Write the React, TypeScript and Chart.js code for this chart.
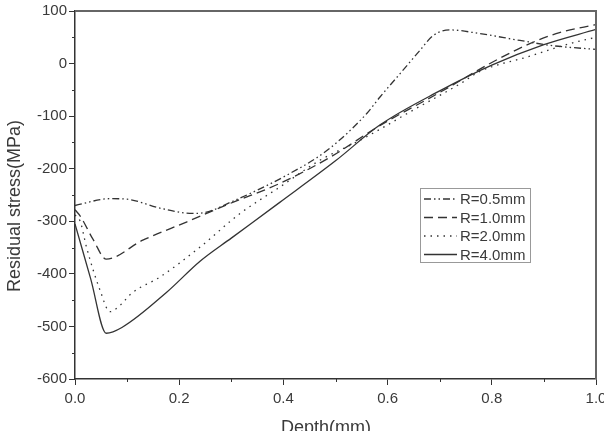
import { useEffect, useRef } from 'react';
import { Chart, registerables } from 'chart.js';

Chart.register(...registerables);

// Residual stress profiles vs depth for four tool radii
const depthR05 = [0, 0.067, 0.1, 0.163, 0.226, 0.246, 0.298, 0.407, 0.484, 0.56, 0.585, 0.624, 0.662, 0.687, 0.72, 0.777, 0.854, 0.917, 1.0];
const stressR05 = [-270, -257, -258, -275, -285, -284, -264, -212, -165, -95, -64, -19, 25, 53, 64, 57, 44, 34, 27];

const depthR10 = [0, 0.01, 0.035, 0.06, 0.13, 0.215, 0.298, 0.393, 0.49, 0.585, 0.7, 0.8, 0.873, 0.93, 1.0];
const stressR10 = [-278, -290, -335, -372, -336, -301, -266, -228, -178, -118, -55, 2, 38, 59, 74];

const depthR20 = [0, 0.01, 0.022, 0.048, 0.067, 0.083, 0.11, 0.163, 0.24, 0.317, 0.393, 0.47, 0.547, 0.65, 0.74, 0.777, 0.873, 0.95, 1.0];
const stressR20 = [-288, -300, -349, -431, -472, -463, -436, -406, -349, -285, -235, -184, -146, -88, -38, -15, 14, 38, 50];

const depthR40 = [0, 0.03, 0.06, 0.09, 0.176, 0.24, 0.3, 0.393, 0.5, 0.585, 0.7, 0.8, 0.9, 1.0];
const stressR40 = [-305, -409, -513, -502, -435, -376, -332, -264, -185, -117, -52, -3, 36, 65];

const seriesLabels = ['R=0.5mm', 'R=1.0mm', 'R=2.0mm', 'R=4.0mm'];
const xTickValues = [0, 0.2, 0.4, 0.6, 0.8, 1.0];
const yTickValues = [-600, -500, -400, -300, -200, -100, 0, 100];
const xTitle = 'Depth(mm)';
const yTitle = 'Residual stress(MPa)';

const INK = '#333333';
const TEXT = '#3a3a3a';
const FONT = '"Liberation Sans", Arial, sans-serif';
const dashes: number[][] = [[7, 3, 1.5, 3, 1.5, 3], [9, 5], [1.5, 5], []];

const toPoints = (xs: number[], ys: number[]) => xs.map((x, i) => ({ x, y: ys[i] }));

// Minor ticks, top/right frame, axis titles and the boxed legend inside the plot
const framePlugin = {
  id: 'frameAndLegend',
  afterDraw(chart: any) {
    const ctx = chart.ctx as CanvasRenderingContext2D;
    const { left, right, top, bottom } = chart.chartArea;
    const xs = chart.scales.x;
    const ys = chart.scales.y;
    ctx.save();
    ctx.strokeStyle = INK;
    ctx.lineWidth = 1;
    for (let v = 0.1; v < 1; v += 0.2) {
      const px = Math.round(xs.getPixelForValue(v)) + 0.5;
      ctx.beginPath();
      ctx.moveTo(px, bottom);
      ctx.lineTo(px, bottom + 3);
      ctx.stroke();
    }
    for (let v = -550; v < 100; v += 100) {
      const py = Math.round(ys.getPixelForValue(v)) + 0.5;
      ctx.beginPath();
      ctx.moveTo(left, py);
      ctx.lineTo(left - 3, py);
      ctx.stroke();
    }
    ctx.strokeStyle = '#666666';
    ctx.lineWidth = 2;
    ctx.beginPath();
    ctx.moveTo(left, top);
    ctx.lineTo(right, top);
    ctx.lineTo(right, bottom);
    ctx.stroke();

    // axis titles
    ctx.fillStyle = TEXT;
    ctx.font = `18px ${FONT}`;
    ctx.textAlign = 'center';
    ctx.textBaseline = 'middle';
    ctx.fillText(xTitle, 326, 428);
    ctx.save();
    ctx.translate(15, 206);
    ctx.rotate(-Math.PI / 2);
    ctx.fillText(yTitle, 0, 0);
    ctx.restore();

    // legend box
    const bx = 420, by = 188, bw = 110, bh = 74;
    ctx.fillStyle = '#ffffff';
    ctx.fillRect(bx, by, bw, bh);
    ctx.strokeStyle = '#999999';
    ctx.lineWidth = 1;
    ctx.strokeRect(bx + 0.5, by + 0.5, bw, bh);
    ctx.font = `15px ${FONT}`;
    ctx.textBaseline = 'middle';
    ctx.textAlign = 'left';
    seriesLabels.forEach((label, i) => {
      const y = by + 11 + i * 18.5;
      ctx.strokeStyle = INK;
      ctx.lineWidth = 1.3;
      ctx.setLineDash(dashes[i]);
      ctx.beginPath();
      ctx.moveTo(bx + 4, y);
      ctx.lineTo(bx + 37, y);
      ctx.stroke();
      ctx.setLineDash([]);
      ctx.fillStyle = TEXT;
      ctx.fillText(label, bx + 40, y + 1);
    });
    ctx.restore();
  },
};

export default function App() {
  const canvasRef = useRef<HTMLCanvasElement | null>(null);

  useEffect(() => {
    if (!canvasRef.current) return;
    const sets = [
      toPoints(depthR05, stressR05),
      toPoints(depthR10, stressR10),
      toPoints(depthR20, stressR20),
      toPoints(depthR40, stressR40),
    ];
    const chart = new Chart(canvasRef.current, {
      type: 'line',
      data: {
        datasets: sets.map((data, i) => ({
          label: seriesLabels[i],
          data,
          borderColor: INK,
          borderWidth: 1.3,
          borderDash: dashes[i],
          pointRadius: 0,
          fill: false,
          cubicInterpolationMode: 'monotone' as const,
        })),
      },
      options: {
        responsive: false,
        animation: false,
        layout: { padding: { top: 10, right: 24, bottom: 0, left: 0 } },
        plugins: { legend: { display: false }, tooltip: { enabled: false } },
        scales: {
          x: {
            type: 'linear',
            min: 0,
            max: 1,
            afterBuildTicks: (scale: any) => {
              scale.ticks = xTickValues.map((value) => ({ value }));
            },
            afterFit: (scale: any) => {
              scale.height = 66;
            },
            ticks: {
              color: TEXT,
              font: { family: FONT, size: 15 },
              padding: 5,
              maxRotation: 0,
              callback: (v: any) => Number(v).toFixed(1),
            },
            grid: { drawOnChartArea: false, tickLength: 6, color: INK },
            border: { color: INK, width: 1.5 },
          },
          y: {
            type: 'linear',
            min: -600,
            max: 100,
            afterBuildTicks: (scale: any) => {
              scale.ticks = yTickValues.map((value) => ({ value }));
            },
            afterFit: (scale: any) => {
              scale.width = 75;
            },
            ticks: {
              color: TEXT,
              font: { family: FONT, size: 15 },
              padding: 2,
              callback: (v: any) => String(v),
            },
            grid: { drawOnChartArea: false, tickLength: 6, color: INK },
            border: { color: INK, width: 1.5 },
          },
        },
      },
      plugins: [framePlugin],
    });
    return () => chart.destroy();
  }, []);

  return (
    <div style={{ position: 'fixed', left: 0, top: 0, width: 604, height: 431, overflow: 'hidden', background: '#fff' }}>
      <canvas ref={canvasRef} width={620} height={445} style={{ display: 'block' }} />
    </div>
  );
}
